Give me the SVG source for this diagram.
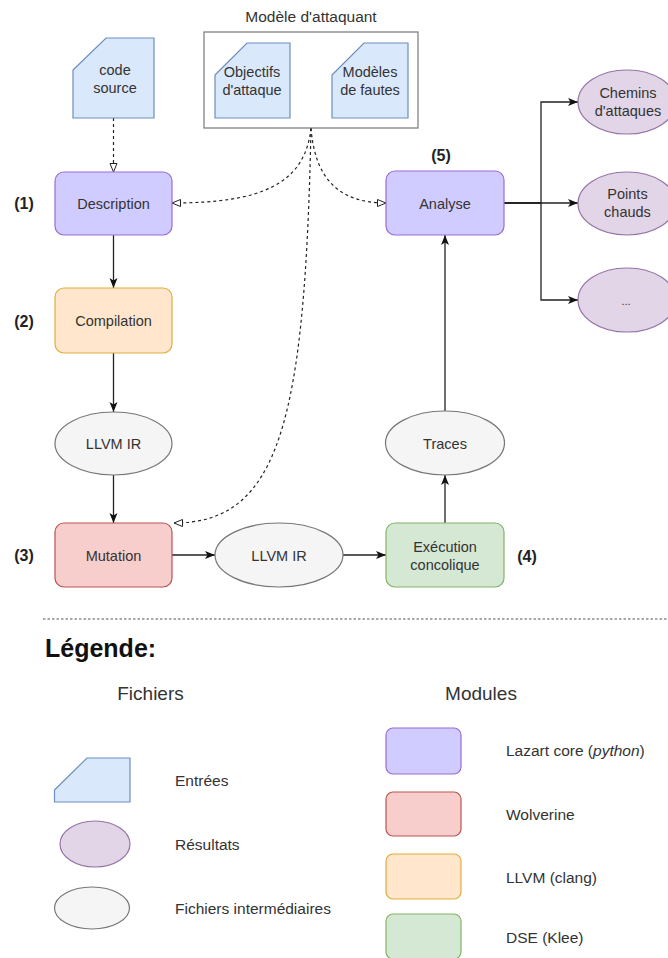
<svg xmlns="http://www.w3.org/2000/svg" width="668" height="958" viewBox="0 0 668 958">
<defs>
<style>
text{font-family:"Liberation Sans",Arial,sans-serif;fill:#333;}
.lbl{font-size:14.5px;text-anchor:middle;}
.step{font-size:16px;font-weight:bold;fill:#222;text-anchor:middle;}
.leg{font-size:15.5px;}
.card{fill:#dae8fc;stroke:#6c8ebf;stroke-width:1.2;}
.core{fill:#d0ccff;stroke:#9a6bd6;stroke-width:1.2;}
.wolv{fill:#f8cecc;stroke:#b85450;stroke-width:1.2;}
.llvm{fill:#ffe6cc;stroke:#e0ae3a;stroke-width:1.2;}
.dse{fill:#d5e8d4;stroke:#82b366;stroke-width:1.2;}
.res{fill:#e1d5e7;stroke:#9673a6;stroke-width:1.2;}
.mid{fill:#f5f5f5;stroke:#777;stroke-width:1.2;}
.edge{fill:none;stroke:#222;stroke-width:1.3;marker-end:url(#arr);}
.dash{fill:none;stroke:#222;stroke-width:1.2;stroke-dasharray:3 3;marker-end:url(#open);}
</style>
<marker id="arr" markerUnits="userSpaceOnUse" markerWidth="11" markerHeight="9" refX="10" refY="4.5" orient="auto">
<path d="M0,0.5 L10,4.5 L0,8.5 L2.5,4.5 Z" fill="#111"/>
</marker>
<marker id="open" markerUnits="userSpaceOnUse" markerWidth="11" markerHeight="10" refX="9.5" refY="5" orient="auto">
<path d="M1,1.5 L9.5,5 L1,8.5 Z" fill="#fff" stroke="#222" stroke-width="1"/>
</marker>
</defs>

<g id="connectors">
<path class="dash" d="M113.5,118 L113.5,172"/>
<path class="dash" d="M311,128 C305,185 260,203 172,203"/>
<path class="dash" d="M311,128 C315,180 340,203 386,203"/>
<path class="dash" d="M311,128 C305,420 280,523 174,523"/>
<path class="edge" d="M113.5,235 V288"/>
<path class="edge" d="M113.5,353 V412"/>
<path class="edge" d="M113.5,475 V523"/>
<path class="edge" d="M172,555 H215"/>
<path class="edge" d="M343,555 H386"/>
<path class="edge" d="M445,523 V475"/>
<path class="edge" d="M445,411 V235"/>
<path class="edge" d="M504,203 H578"/>
<path class="edge" d="M504,203 H541 V102 H578"/>
<path class="edge" d="M504,203 H541 V300 H578"/>
</g>

<g id="code-source">
<path class="card" d="M73,70 L106,38 L154,38 L154,118 L73,118 Z"/>
<text class="lbl" x="115" y="75">code</text>
<text class="lbl" x="115" y="93">source</text>
</g>

<g id="modele-attaquant">
<text x="311" y="22" style="font-size:15.5px;text-anchor:middle">Modèle d'attaquant</text>
<rect x="204" y="32" width="214" height="96" fill="#fff" stroke="#777" stroke-width="1.2"/>
</g>
<g id="objectifs">
<path class="card" d="M215,75 L247,43 L290,43 L290,118 L215,118 Z"/>
<text class="lbl" x="252" y="77">Objectifs</text>
<text class="lbl" x="252" y="95">d'attaque</text>
</g>
<g id="modeles-fautes">
<path class="card" d="M332,75 L364,43 L408,43 L408,118 L332,118 Z"/>
<text class="lbl" x="370" y="77">Modèles</text>
<text class="lbl" x="370" y="95">de fautes</text>
</g>

<g id="description">
<rect class="core" x="55" y="172" width="117" height="63" rx="9"/>
<text class="lbl" x="113.5" y="208.5">Description</text>
<text class="step" x="24" y="209">(1)</text>
</g>

<g id="compilation">
<rect class="llvm" x="55" y="288" width="117" height="65" rx="9"/>
<text class="lbl" x="113.5" y="326">Compilation</text>
<text class="step" x="24" y="327">(2)</text>
</g>

<g id="llvm-ir-1">
<ellipse class="mid" cx="113.5" cy="443.5" rx="58.5" ry="31.5"/>
<text class="lbl" x="113.5" y="448.5">LLVM IR</text>
</g>

<g id="mutation">
<rect class="wolv" x="55" y="523" width="117" height="64" rx="9"/>
<text class="lbl" x="113.5" y="560.5">Mutation</text>
<text class="step" x="24" y="561">(3)</text>
</g>

<g id="llvm-ir-2">
<ellipse class="mid" cx="279" cy="555" rx="64" ry="32"/>
<text class="lbl" x="279" y="560.5">LLVM IR</text>
</g>

<g id="execution">
<rect class="dse" x="386" y="523" width="118" height="64" rx="9"/>
<text class="lbl" x="445" y="552">Exécution</text>
<text class="lbl" x="445" y="570">concolique</text>
<text class="step" x="527" y="562">(4)</text>
</g>

<g id="traces">
<ellipse class="mid" cx="445" cy="443" rx="59.5" ry="32"/>
<text class="lbl" x="445" y="448.5">Traces</text>
</g>

<g id="analyse">
<rect class="core" x="386" y="171" width="118" height="64" rx="9"/>
<text class="lbl" x="445" y="208.5">Analyse</text>
<text class="step" x="441" y="161">(5)</text>
</g>

<g id="chemins">
<ellipse class="res" cx="627" cy="102" rx="49" ry="32"/>
<text class="lbl" x="628" y="97.5">Chemins</text>
<text class="lbl" x="628" y="115.5">d'attaques</text>
</g>
<g id="points-chauds">
<ellipse class="res" cx="627" cy="203.5" rx="49" ry="31.5"/>
<text class="lbl" x="627.5" y="199">Points</text>
<text class="lbl" x="627.5" y="216.5">chauds</text>
</g>
<g id="autres">
<ellipse class="res" cx="627" cy="300" rx="49" ry="32"/>
<text class="lbl" x="626" y="305" style="font-size:11px">...</text>
</g>

<g id="legende">
<line x1="43" y1="619" x2="668" y2="619" stroke="#555" stroke-width="1" stroke-dasharray="2.5 2"/>
<text x="45" y="657" style="font-size:25px;font-weight:bold;fill:#111">Légende:</text>
<text x="150.5" y="700" style="font-size:19px;text-anchor:middle">Fichiers</text>
<text x="481" y="700" style="font-size:19px;text-anchor:middle">Modules</text>
<path class="card" d="M54.5,790 L87,758 L130,758 L130,802 L54.5,802 Z"/>
<text class="leg" x="175" y="786">Entrées</text>
<ellipse class="res" cx="95" cy="844" rx="35" ry="23"/>
<text class="leg" x="175" y="850">Résultats</text>
<ellipse class="mid" cx="92" cy="908" rx="37.5" ry="21"/>
<text class="leg" x="175" y="914">Fichiers intermédiaires</text>
<rect class="core" x="386" y="728" width="75" height="46" rx="7"/>
<text class="leg" x="506" y="756">Lazart core (<tspan font-style="italic">python</tspan>)</text>
<rect class="wolv" x="386" y="792" width="75" height="44" rx="7"/>
<text class="leg" x="506" y="820">Wolverine</text>
<rect class="llvm" x="386" y="854" width="75" height="45" rx="7"/>
<text class="leg" x="506" y="883">LLVM (clang)</text>
<rect class="dse" x="386" y="914" width="75" height="45" rx="7"/>
<text class="leg" x="506" y="943">DSE (Klee)</text>
</g>
</svg>
